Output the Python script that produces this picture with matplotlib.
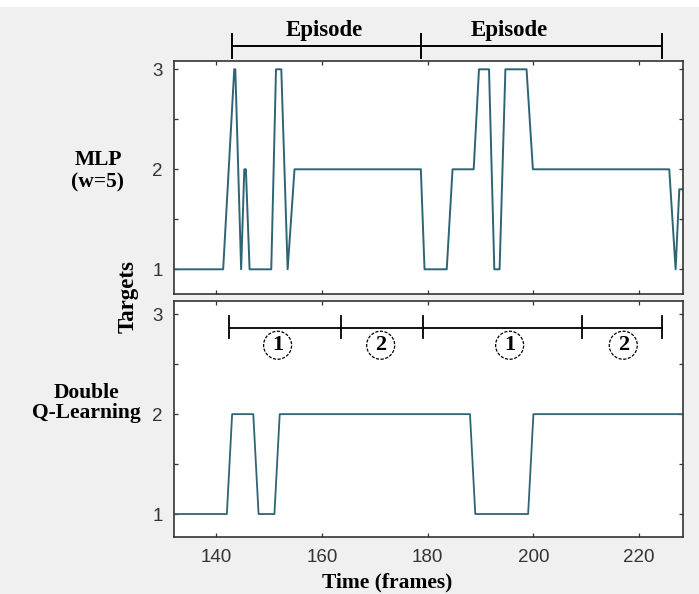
import matplotlib.pyplot as plt
from matplotlib.patches import Rectangle

# ==================================
# DATA
# ==================================

mlp_frames = [132, 141.3, 143.4, 143.6, 144.7, 145.3, 145.6, 146.3, 150.4, 151.3,
              152.3, 153.5, 154.8, 178.7, 179.4, 183.6, 184.7, 188.7, 189.7, 191.6,
              192.6, 193.6, 194.7, 198.7, 199.9, 225.7, 226.9, 227.6, 228.3]
mlp_targets = [1, 1, 3, 3, 1, 2, 2, 1, 1, 3,
               3, 1, 2, 2, 1, 1, 2, 2, 3, 3,
               1, 1, 3, 3, 2, 2, 1, 1.8, 1.8]

dql_frames = [132, 142, 143, 147, 148, 151, 152, 188, 189, 199, 200, 228.3]
dql_targets = [1, 1, 2, 2, 1, 1, 2, 2, 1, 1, 2, 2]

episode_marks = [143, 178.7, 224.3]
episode_label_x = [160.5, 195.5]
phase_marks = [142.5, 163.6, 179.2, 209.2, 224.4]
phase_label_x = [151.6, 171.1, 195.5, 217]
phase_labels = ["1", "2", "1", "2"]

x_ticks = [140, 160, 180, 200, 220]
y_ticks = [1, 2, 3]
y_minor = [1.5, 2.5]

# ==================================
# FIGURE
# ==================================

W, H = 699, 594
line_color = "#2f6474"
serif = "Liberation Serif"

fig = plt.figure(figsize=(W / 100, H / 100), dpi=100, facecolor="#f0f0f0")
fig.patches.append(Rectangle((0, 1 - 7 / H), 1, 7 / H, transform=fig.transFigure,
                             facecolor="white", edgecolor="none", zorder=-1))

ax1 = fig.add_axes([174 / W, 1 - 294 / H, 509 / W, 233 / H])
ax2 = fig.add_axes([174 / W, 1 - 537 / H, 509 / W, 236 / H])

ax1.plot(mlp_frames, mlp_targets, color=line_color, lw=1.4)
ax2.plot(dql_frames, dql_targets, color=line_color, lw=1.3)

ax1.set_ylim(0.753, 3.083)
ax2.set_ylim(0.77, 3.133)

for ax in (ax1, ax2):
    ax.set_xlim(132, 228.3)
    ax.set_xticks(x_ticks)
    ax.set_yticks(y_ticks)
    ax.set_yticks(y_minor, minor=True)
    ax.tick_params(which="both", direction="in", top=True, right=True,
                   length=3, width=0.9, color="#333333",
                   labelsize=13.5, labelcolor="#333333")
    ax.tick_params(axis="y", pad=8)
    ax.tick_params(axis="x", pad=9)
    for lab in ax.get_xticklabels() + ax.get_yticklabels():
        lab.set_family("Liberation Sans")
    for sp in ax.spines.values():
        sp.set_color("#333333")
        sp.set_linewidth(1.2)

ax1.tick_params(axis="x", labelbottom=False)

# ==================================
# EPISODE BRACKETS
# ==================================

ax1.plot([episode_marks[0], episode_marks[-1]], [3.233, 3.233],
         color="black", lw=1.4, clip_on=False)
for m in episode_marks:
    ax1.plot([m, m], [3.113, 3.353], color="black", lw=1.4, clip_on=False)
for xl in episode_label_x:
    ax1.text(xl, 3.39, "Episode", ha="center", va="center", fontsize=16.5,
             fontweight="bold", family=serif, clip_on=False)

ax2.plot([phase_marks[0], phase_marks[-1]], [2.867, 2.867],
         color="black", lw=1.3)
for m in phase_marks:
    ax2.plot([m, m], [2.767, 2.983], color="black", lw=1.3)
for xl, lab in zip(phase_label_x, phase_labels):
    ax2.text(xl, 2.69, lab, ha="center", va="center", fontsize=16,
             fontweight="bold", family=serif,
             bbox=dict(boxstyle="circle,pad=0.18", fc="white", ec="black",
                       lw=0.9, ls=(0, (2.5, 1.2))))

# ==================================
# LABELS
# ==================================

fig.text(98 / W, 1 - 171 / H, "MLP\n(w=5)", ha="center", va="center",
         fontsize=15.5, fontweight="bold", family=serif, linespacing=1.15)
fig.text(86 / W, 1 - 403 / H, "Double\nQ-Learning", ha="center", va="center",
         fontsize=15.5, fontweight="bold", family=serif, linespacing=1.0)
fig.text(128 / W, 1 - 297 / H, "Targets", ha="center", va="center",
         rotation=90, fontsize=16.5, fontweight="bold", family=serif)
fig.text(387 / W, 1 - 582 / H, "Time (frames)", ha="center", va="center",
         fontsize=15.5, fontweight="bold", family=serif)

plt.savefig("out.png", dpi=100, facecolor=fig.get_facecolor())
plt.close()
